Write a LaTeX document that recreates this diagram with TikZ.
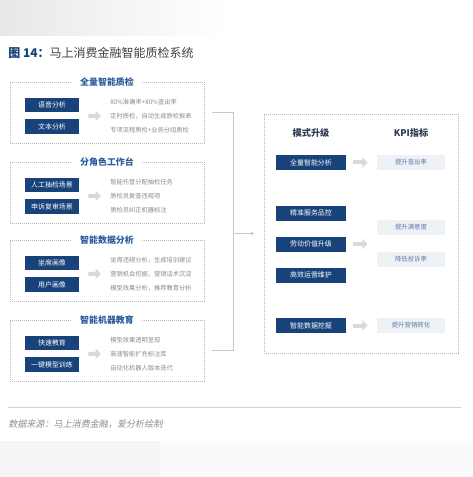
\documentclass[tikz,border=0pt]{standalone}
\usepackage{fontspec}
\setmainfont{Noto Sans CJK SC}
\newfontfamily\cjkit[FakeSlant=0.2]{Noto Sans CJK SC}
\usetikzlibrary{arrows.meta,calc}
\definecolor{navy}{HTML}{17427A}
\definecolor{titleblue}{HTML}{2B5C9E}
\definecolor{headgray}{HTML}{2F3B52}
\definecolor{softgray}{HTML}{8A8A8A}
\definecolor{kpifill}{HTML}{EEF2F7}
\definecolor{kpitext}{HTML}{5C7CA6}
\definecolor{arrowgray}{HTML}{D9D9D9}
\definecolor{dotgray}{HTML}{B8B8B8}
\newcommand\px{0.75pt}

\begin{document}
\begin{tikzpicture}[x=\px,y=-\px,>=Stealth,
  secbox/.style={draw=dotgray,dash pattern=on 0.6pt off 0.9pt,line width=0.5pt,
    minimum width=194*\px,minimum height=61*\px,inner sep=0},
  sectitle/.style={fill=white,inner xsep=6pt,inner ysep=1pt,text=titleblue,
    font=\fontsize{6.7}{7}\selectfont\bfseries},
  bluebox/.style={fill=navy,text=white,minimum width=54*\px,minimum height=14.5*\px,
    inner sep=0,font=\fontsize{5.2}{6}\selectfont},
  modebox/.style={bluebox,minimum width=70*\px,minimum height=15*\px},
  kpibox/.style={fill=kpifill,text=kpitext,minimum width=68*\px,minimum height=15*\px,
    inner sep=0,font=\fontsize{4.8}{5}\selectfont},
  note/.style={anchor=west,text=softgray,inner sep=0,font=\fontsize{4.7}{5}\selectfont},
  head/.style={text=headgray,font=\fontsize{6.9}{7}\selectfont\bfseries},
  fatarrow/.style={draw=arrowgray,line width=3pt,-{Triangle[length=4pt,width=7.5pt]}},
  bracket/.style={draw=black!22,line width=0.6pt}]
\useasboundingbox (0,0) rectangle (473,477);
% ---- 截图上下的灰色底纹 ----
\shade[left color=black!9,middle color=black!15,right color=white] (0,0) rectangle (225,36);
\fill[black!4] (0,441) rectangle (160,477);
\fill[black!2] (160,441) rectangle (473,477);
% ---- 标题 ----
\node[anchor=west,inner sep=0,font=\fontsize{9}{10}\selectfont] (ttl) at (8,53)
  {\textcolor{navy}{\bfseries 图 14：}\textcolor{black!75}{马上消费金融智能质检系统}};
% ---- 左侧四个功能模块 ----
\foreach \n/\y/\ttl/\ba/\bb/\la/\lb/\lc in {
  1/82/全量智能质检/语音分析/文本分析/80\%准确率+80\%查出率/定时质检，自动生成质检报表/专项流程质检+业务分组质检,
  2/162/分角色工作台/人工抽检场景/申诉复审场景/智能托管分配抽检任务/质检员复查违规项/质检员纠正机器标注,
  3/240/智能数据分析/坐席画像/用户画像/坐席违规分析，生成培训建议/营销机会挖掘，营销话术沉淀/模型效果分析，推荐教育分析,
  4/320/智能机器教育/快速教育/一键模型训练/模型效果透明呈现/高速智能扩充标注库/自动化机器人版本迭代}{
  \node[secbox] (s\n) at (107,{\y+30.5}) {};
  \node[sectitle] (t\n) at (107,\y) {\ttl};
  \node[bluebox] (a\n) at (52,{\y+23}) {\ba};
  \node[bluebox] (b\n) at (52,{\y+44.5}) {\bb};
  \node[note] (la\n) at (110,{\y+20}) {\la};
  \node[note] (lb\n) at (110,{\y+34}) {\lb};
  \node[note] (lc\n) at (110,{\y+48}) {\lc};
  \draw[fatarrow] ($(a\n.east)!0.5!(b\n.east)+(9,0)$) -- ($(lb\n.west)+(-9,0)$);
}
% ---- 右侧：模式升级与KPI指标 ----
\node[secbox,minimum height=239*\px] (mode) at (361,233.5) {};
\node[head] (h1) at (311,133) {模式升级};
\node[head] (h2) at (411,133) {KPI指标};
\node[modebox] (m1) at (311,162.5) {全量智能分析};
\node[modebox] (m2) at (311,213) {精准服务品控};
\node[modebox] (m3) at (311,244) {劳动价值升级};
\node[modebox] (m4) at (311,275) {高效运营维护};
\node[modebox] (m5) at (311,325.5) {智能数据挖掘};
\node[kpibox] (k1) at (411,162.5) {提升查出率};
\node[kpibox] (k2) at (411,227.5) {提升满意度};
\node[kpibox] (k3) at (411,259.5) {降低投诉率};
\node[kpibox] (k4) at (411,325.5) {提升营销转化};
\draw[fatarrow] ($(m1.east)+(7,0)$) -- ($(k1.west)+(-9,0)$);
\draw[fatarrow] ($(m3.east)+(7,0)$) -- ($(m3.east -| k2.west)+(-9,0)$);
\draw[fatarrow] ($(m5.east)+(7,0)$) -- ($(k4.west)+(-9,0)$);
% ---- 左右之间的汇总括线 ----
\coordinate (bk) at ($(s1.east)+(29,0)$);
\draw[bracket] ($(s1.east)+(8,0)$) -- (bk) |- ($(s4.east)+(8,0)$);
\draw[bracket,-{Stealth[length=3pt,width=2.5pt]}] (bk |- mode.west) -- ($(mode.west)+(-9,0)$);
% ---- 底部来源 ----
\draw[black!18,line width=0.7pt] (8,407) -- (461,407);
\node[anchor=west,inner sep=0,text=black!45,font=\cjkit\fontsize{6.8}{7}\selectfont] (src) at (8,424)
  {数据来源：马上消费金融，爱分析绘制};
\end{tikzpicture}
\end{document}
